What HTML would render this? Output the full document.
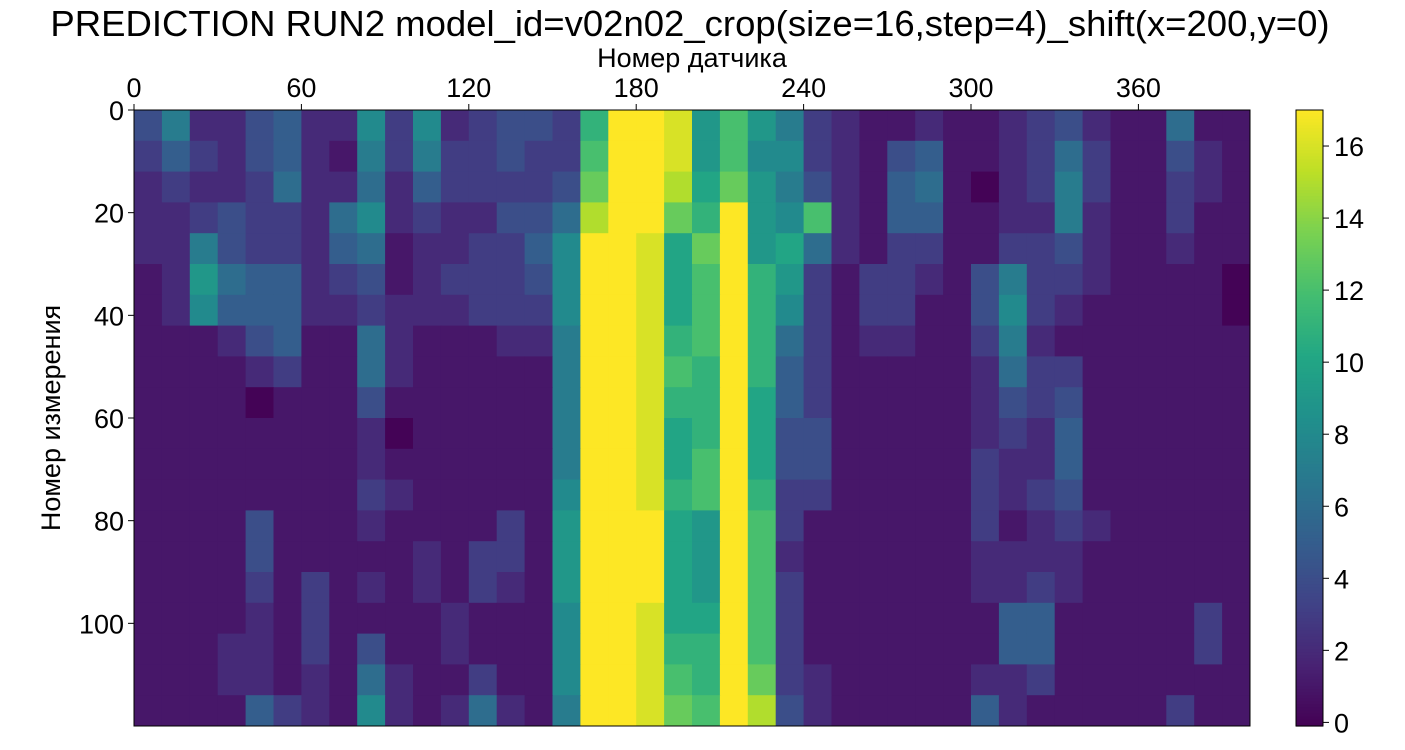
<!DOCTYPE html>
<html><head><meta charset="utf-8">
<style>
html,body{margin:0;padding:0;background:#fff;width:1405px;height:750px;overflow:hidden}
svg{display:block}
text{font-family:"Liberation Sans","DejaVu Sans",sans-serif;fill:#000}
</style></head>
<body>
<svg id="chart" width="1405" height="750">
<text x="690" y="36" font-size="36.5" text-anchor="middle">PREDICTION RUN2 model_id=v02n02_crop(size=16,step=4)_shift(x=200,y=0)</text>
<text x="692" y="67" font-size="27" text-anchor="middle">Номер датчика</text>
<text x="0" y="0" font-size="27" text-anchor="middle" transform="translate(60,418) rotate(-90)">Номер измерения</text>
<g id="cells"></g>
<g id="axes"></g>
<g id="cbar"></g>
</svg>
<script>
const xTicks=[0,60,120,180,240,300,360];
const yTicks=[0,20,40,60,80,100];
const cbTicks=[0,2,4,6,8,10,12,14,16];
const colStep=10, rowStep=6;
const grid=[
[4,7,2,2,4,5,2,2,8,3,8,2,3,4,4,3,11,17,17,16,9,12,9,7,3,2,1,1,2,1,1,2,3,4,2,1,1,6,1,1],
[3,5,3,2,4,5,2,1,7,3,7,3,3,4,3,3,12,17,17,16,9,12,8,8,3,2,1,4,5,1,1,2,3,6,3,1,1,4,2,1],
[2,3,2,2,3,6,2,2,6,2,5,3,3,3,3,4,13,17,17,15,10,13,9,7,4,2,1,5,6,1,0,2,3,7,3,1,1,3,2,1],
[2,2,3,4,3,3,2,6,8,2,3,2,2,4,4,6,15,17,17,13,11,17,9,8,12,2,1,5,5,1,1,2,2,7,2,1,1,3,1,1],
[2,2,7,4,3,3,2,5,6,1,2,2,3,3,5,8,17,17,16,10,13,17,9,10,6,2,1,3,3,1,1,3,3,4,2,1,1,2,1,1],
[1,2,9,6,5,5,2,3,4,1,2,3,3,3,4,8,17,17,16,10,12,17,11,9,3,1,3,3,2,1,4,7,3,3,2,1,1,1,1,0],
[1,2,8,5,5,5,2,2,3,2,2,2,3,3,3,8,17,17,16,10,12,17,11,8,3,1,3,3,1,1,4,8,3,2,1,1,1,1,1,0],
[1,1,1,2,4,5,1,1,6,2,1,1,1,2,2,7,17,17,16,11,12,17,11,6,3,1,2,2,1,1,3,7,2,1,1,1,1,1,1,1],
[1,1,1,1,2,3,1,1,6,2,1,1,1,1,1,7,17,17,16,12,11,17,11,5,3,1,1,1,1,1,2,6,3,3,1,1,1,1,1,1],
[1,1,1,1,0,1,1,1,4,1,1,1,1,1,1,7,17,17,16,11,11,17,10,5,3,1,1,1,1,1,2,4,3,4,1,1,1,1,1,1],
[1,1,1,1,1,1,1,1,2,0,1,1,1,1,1,7,17,17,16,10,11,17,10,4,4,1,1,1,1,1,2,3,2,5,1,1,1,1,1,1],
[1,1,1,1,1,1,1,1,2,1,1,1,1,1,1,7,17,17,16,10,12,17,10,4,4,1,1,1,1,1,3,2,2,5,1,1,1,1,1,1],
[1,1,1,1,1,1,1,1,3,2,1,1,1,1,1,8,17,17,16,11,12,17,11,3,3,1,1,1,1,1,3,2,3,4,1,1,1,1,1,1],
[1,1,1,1,4,1,1,1,2,1,1,1,1,3,1,9,17,17,17,10,9,17,12,3,1,1,1,1,1,1,3,1,2,3,2,1,1,1,1,1],
[1,1,1,1,4,1,1,1,1,1,2,1,3,3,1,9,17,17,17,10,9,17,12,2,1,1,1,1,1,1,2,2,2,2,1,1,1,1,1,1],
[1,1,1,1,3,1,3,1,2,1,2,1,3,2,1,9,17,17,17,10,9,17,12,3,1,1,1,1,1,1,2,2,3,2,1,1,1,1,1,1],
[1,1,1,1,2,1,3,1,1,1,1,2,1,1,1,8,17,17,16,10,10,17,12,3,1,1,1,1,1,1,1,5,5,1,1,1,1,1,3,1],
[1,1,1,2,2,1,3,1,4,1,1,2,1,1,1,8,17,17,16,11,11,17,12,3,1,1,1,1,1,1,1,5,5,1,1,1,1,1,3,1],
[1,1,1,2,2,1,2,1,6,2,1,1,3,1,1,8,17,17,16,12,11,17,13,3,2,1,1,1,1,1,2,2,3,1,1,1,1,1,1,1],
[1,1,1,1,5,3,2,1,8,2,1,2,6,2,1,7,17,17,16,13,12,17,15,4,2,1,1,1,1,1,5,2,1,1,1,1,1,3,1,1]
];
const NS="http://www.w3.org/2000/svg";
const L=134,R=1250,T=110,B=726,VMIN=-0.1,VMAX=17;
const nSensors=grid[0].length*colStep, nRows=grid.length*rowStep;
const xs=v=>L+v*(R-L)/nSensors;
const ys=v=>T+v*(B-T)/nRows;
const stops=[[68,1,84],[72,35,116],[64,67,135],[52,94,141],[41,120,142],[32,144,140],[34,167,132],[68,190,112],[121,209,81],[189,223,38],[253,231,37]];
function viridis(t){t=Math.max(0,Math.min(1,t));const p=t*(stops.length-1),i=Math.min(Math.floor(p),stops.length-2),f=p-i;
const c=stops[i].map((a,k)=>Math.round(a+(stops[i+1][k]-a)*f));return `rgb(${c[0]},${c[1]},${c[2]})`;}
function el(tag,attrs,parent){const e=document.createElementNS(NS,tag);for(const k in attrs)e.setAttribute(k,attrs[k]);parent.appendChild(e);return e;}
const cells=document.getElementById('cells');
grid.forEach((row,r)=>row.forEach((v,c)=>{
 const x0=xs(c*colStep),x1=xs((c+1)*colStep),y0=ys(r*rowStep),y1=ys((r+1)*rowStep);
 const e=el('rect',{x:x0,y:y0,width:x1-x0+0.5,height:y1-y0+0.5,fill:viridis((v-VMIN)/(VMAX-VMIN))},cells);
 
 
}));
const axes=document.getElementById('axes');
el('rect',{x:L,y:T,width:R-L,height:B-T,fill:'none',stroke:'#000','stroke-width':1},axes);
xTicks.forEach(t=>{const x=xs(t);
 el('line',{x1:x,x2:x,y1:T,y2:T-6,stroke:'#000'},axes);
 const tx=el('text',{x:x,y:T-13,'font-size':27,'text-anchor':'middle'},axes);tx.textContent=t;
 
 
});
yTicks.forEach(t=>{const y=ys(t);
 el('line',{x1:L,x2:L-6,y1:y,y2:y,stroke:'#000'},axes);
 const tx=el('text',{x:L-10,y:y+10,'font-size':27,'text-anchor':'end'},axes);tx.textContent=t;
 
 
});
const cb=document.getElementById('cbar');
const CL=1296,CR=1323;
for(let i=0;i<200;i++){const y0=T+(B-T)*i/200;const v=VMAX-(VMAX-VMIN)*(i+0.5)/200;
 el('rect',{x:CL,y:y0,width:CR-CL,height:(B-T)/200+0.6,fill:viridis((v-VMIN)/(VMAX-VMIN))},cb);}
el('rect',{x:CL,y:T,width:CR-CL,height:B-T,fill:'none',stroke:'#000'},cb);
const cy=v=>B-(v-VMIN)/(VMAX-VMIN)*(B-T);
cbTicks.forEach(t=>{const y=cy(t);
 el('line',{x1:CR,x2:CR+6,y1:y,y2:y,stroke:'#000'},cb);
 const tx=el('text',{x:CR+11,y:y+10,'font-size':27},cb);tx.textContent=t;
 
 
});
</script>
</body></html>
